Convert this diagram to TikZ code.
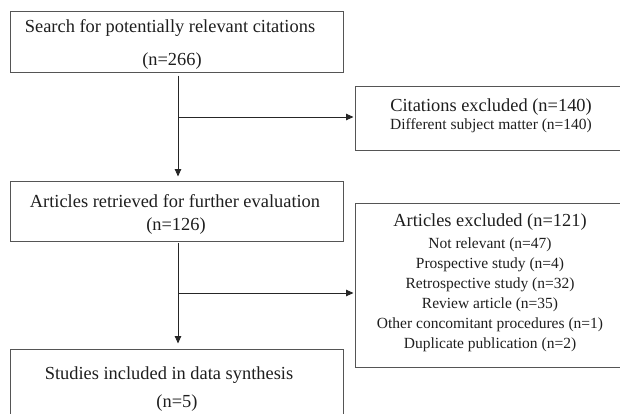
\documentclass[tikz,border=0pt]{standalone}
\usepackage{fontspec}
\setmainfont{Liberation Serif}
\usetikzlibrary{arrows.meta}
\definecolor{boxline}{HTML}{555555}
\definecolor{txt}{HTML}{1E1E1E}
\tikzset{
  box/.style={draw=boxline, line width=1.1pt, rectangle, inner sep=0pt, anchor=north west},
  big/.style={font=\fontsize{18.4}{20}\selectfont, text=txt, anchor=base, inner sep=0pt},
  small/.style={font=\fontsize{15.5}{17}\selectfont, text=txt, anchor=base, inner sep=0pt},
  conn/.style={draw=black!85, line width=0.9pt},
  arr/.style={conn, -{Triangle[length=7.5pt,width=6.5pt]}}
}
\begin{document}
\begin{tikzpicture}[x=1pt,y=-1pt]
\useasboundingbox (0,0) rectangle (620,414);
\clip (0,0) rectangle (620,414);
% boxes
\node[box, minimum width=333pt, minimum height=61pt] (b1) at (10,11) {};
\node[box, minimum width=290pt, minimum height=64pt] (b2) at (355,86) {};
\node[box, minimum width=333pt, minimum height=60pt] (b3) at (10,181) {};
\node[box, minimum width=290pt, minimum height=164pt] (b4) at (355,203) {};
\node[box, minimum width=333pt, minimum height=90pt] (b5) at (10,349) {};
% texts
\node[big] (t1a) at (170,33) {Search for potentially relevant citations};
\node[big] (t1b) at (172,65.5) {(n=266)};
\node[big] (t2a) at (491,112) {Citations excluded (n=140)};
\node[small] (t2b) at (491,130) {Different subject matter (n=140)};
\node[big] (t3a) at (175,207) {Articles retrieved for further evaluation};
\node[big] (t3b) at (176,230.5) {(n=126)};
\node[big] (t4a) at (490,226) {Articles excluded (n=121)};
\node[small] (t4b) at (490,248) {Not relevant (n=47)};
\node[small] (t4c) at (490,268) {Prospective study (n=4)};
\node[small] (t4d) at (490,288) {Retrospective study (n=32)};
\node[small] (t4e) at (490,308) {Review article (n=35)};
\node[small] (t4f) at (490,328) {Other concomitant procedures (n=1)};
\node[small] (t4g) at (490,348) {Duplicate publication (n=2)};
\node[big] (t5a) at (169,379) {Studies included in data synthesis};
\node[big] (t5b) at (177,407) {(n=5)};
% connectors
\coordinate (v) at (178,0);
\coordinate (j1) at (178,117);
\coordinate (j2) at (178,293);
\draw[arr, shorten <=2.5pt, shorten >=4.5pt] (b1.south -| v) -- (b3.north -| v);
\draw[arr, shorten >=1.5pt] (j1) -- (j1 -| b2.west);
\draw[arr, shorten <=0.5pt, shorten >=5.5pt] (b3.south -| v) -- (b5.north -| v);
\draw[arr, shorten >=1.5pt] (j2) -- (j2 -| b4.west);
\end{tikzpicture}
\end{document}
